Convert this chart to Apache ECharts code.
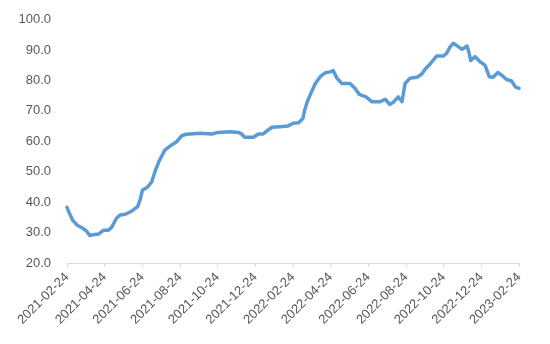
<!DOCTYPE html>
<html>
<head>
<meta charset="utf-8">
<script src="https://cdn.jsdelivr.net/npm/echarts@6/dist/echarts.min.js"></script>
<style>html,body{margin:0;padding:0;background:#fff}#c{width:550px;height:344px}</style>
</head>
<body>
<div id="c"></div>
<script>
// Days since 2021-02-24
var days = [0,4,9,16,24,31,37,42,51,59,67,72,80,86,94,105,114,118,122,130,137,142,149,158,169,177,185,193,215,234,244,263,277,282,287,301,309,317,325,331,344,357,365,374,381,384,388,394,401,409,417,425,430,436,444,457,465,472,483,492,506,514,521,527,535,541,546,554,565,573,578,586,597,608,613,619,624,632,638,646,649,652,659,667,675,682,688,696,705,710,718,724,730];
var values = [38.3,36.3,34.1,32.5,31.6,30.6,29.0,29.3,29.5,30.8,30.8,31.7,34.7,35.8,36.0,37.1,38.5,40.7,44.0,44.9,46.7,50.0,53.6,57.1,58.8,59.8,61.8,62.3,62.6,62.4,62.9,63.1,62.9,62.4,61.3,61.3,62.4,62.4,63.7,64.6,64.8,65.0,65.9,66.1,67.5,70.3,73.0,75.8,79.0,81.2,82.5,82.8,83.2,80.7,79.0,79.0,77.4,75.4,74.6,73.0,73.0,73.8,72.1,72.8,74.6,73.0,79.0,80.7,81.0,82.1,83.6,85.3,88.0,88.0,88.9,91.1,92.2,91.1,90.2,91.3,89.4,86.5,87.8,86.1,85.0,81.2,81.0,82.6,81.2,80.3,79.8,77.9,77.4];
var xLabels = ['2021-02-24','2021-04-24','2021-06-24','2021-08-24','2021-10-24','2021-12-24','2022-02-24','2022-04-24','2022-06-24','2022-08-24','2022-10-24','2022-12-24','2023-02-24'];
var yMin = 20, yMax = 100, yStep = 10;

var totalDays = 730;
var step = totalDays / (xLabels.length - 1);
var pts = days.map(function(d, i){ return [d, values[i]]; });

var chart = echarts.init(document.getElementById('c'), null, {renderer:'canvas'});
chart.setOption({
  animation: false,
  backgroundColor: '#ffffff',
  grid: {left: 67, right: 31, top: 19.5, bottom: 81, containLabel: false},
  xAxis: {
    type: 'value',
    min: 0, max: step * (xLabels.length - 1), interval: step,
    axisLine: {show: true, lineStyle: {color: '#d9d9d9', width: 1}},
    axisTick: {show: true, length: 4, lineStyle: {color: '#d9d9d9'}},
    splitLine: {show: false},
    axisLabel: {
      rotate: 45, margin: 12, color: '#595959', fontSize: 13,
      fontFamily: 'Liberation Sans, Arial, sans-serif',
      showMinLabel: true, showMaxLabel: true,
      formatter: function(v){ return xLabels[Math.round(v / step)] || ''; }
    }
  },
  yAxis: {
    type: 'value', min: yMin, max: yMax, interval: yStep,
    axisLine: {show: false}, axisTick: {show: false}, splitLine: {show: false},
    axisLabel: {
      margin: 16, color: '#595959', fontSize: 13,
      fontFamily: 'Liberation Sans, Arial, sans-serif',
      formatter: function(v){ return v.toFixed(1); }
    }
  },
  series: [{
    type: 'line', data: pts, showSymbol: false, smooth: false,
    lineStyle: {color: '#5b9bd5', width: 3.5, cap: 'round', join: 'round'},
    itemStyle: {color: '#5b9bd5'}
  }]
});
</script>
</body>
</html>
